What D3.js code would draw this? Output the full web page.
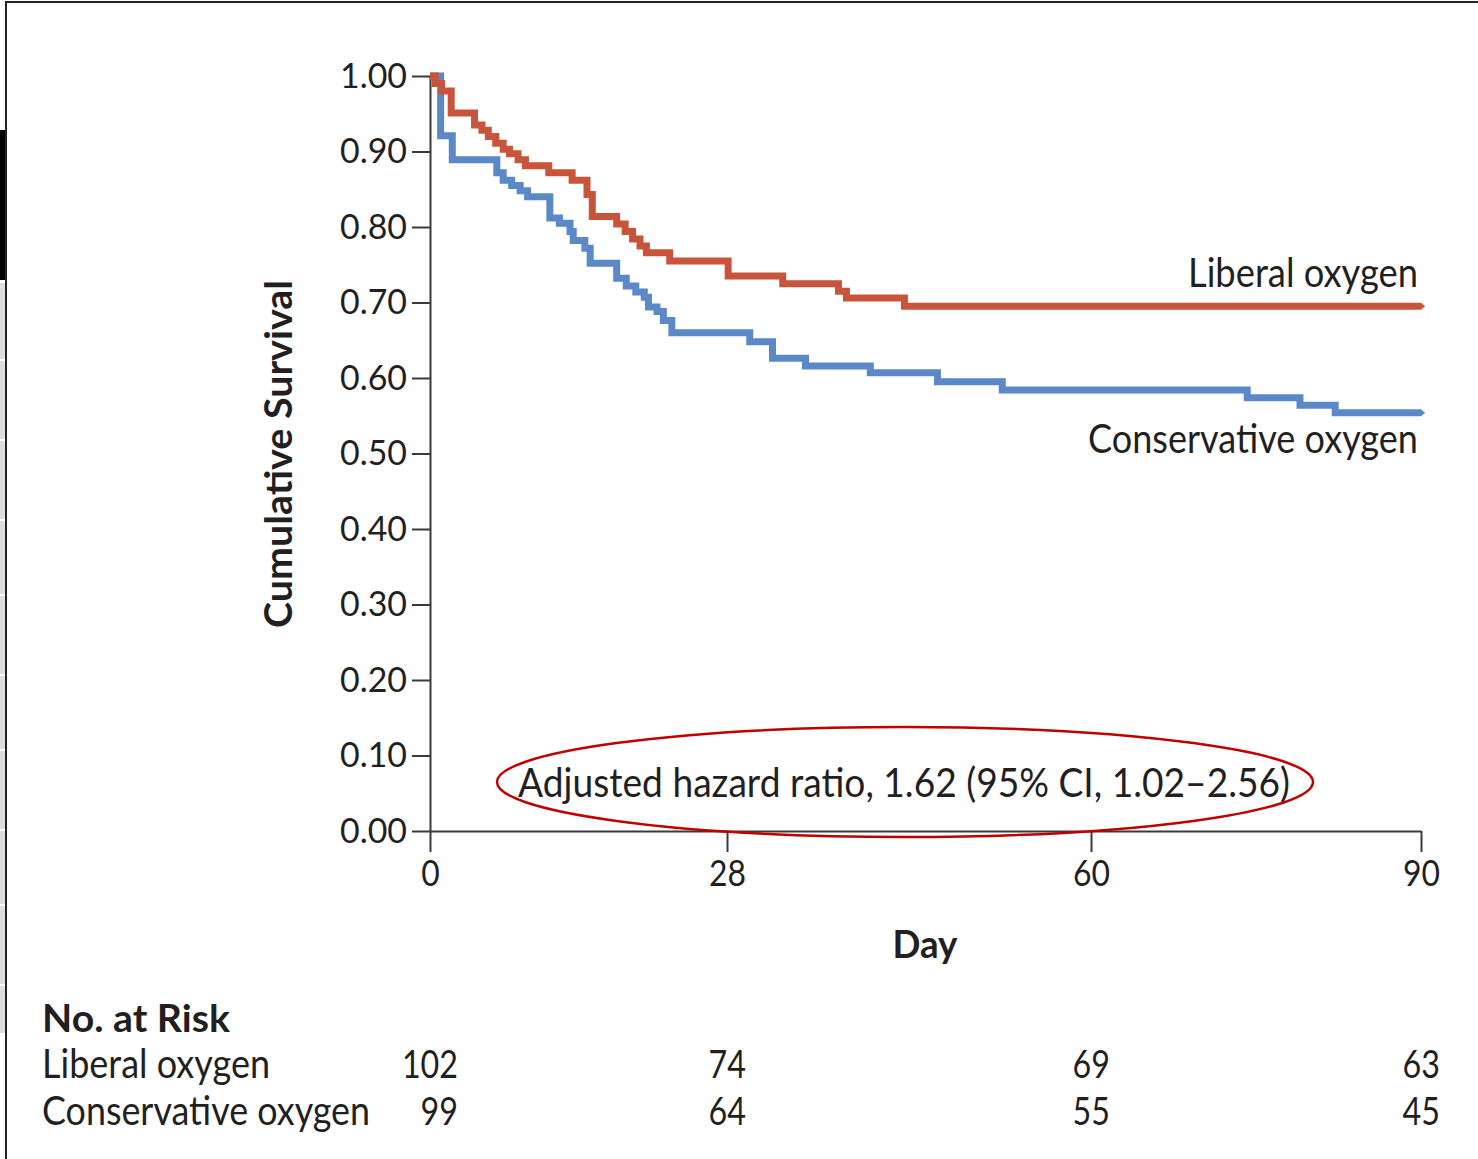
<!DOCTYPE html>
<html>
<head>
<meta charset="utf-8">
<script src="https://cdn.jsdelivr.net/npm/d3@7"></script>
<style>
  body { margin: 0; background: #fff; }
  text { font-family: Lato, "Open Sans", sans-serif; fill: #231f20; }
</style>
</head>
<body>
<svg></svg>
<script>
const width = 1478;
const height = 1159;

// Kaplan-Meier steps: [day, survival]
const liberalDays = [0, 0.5, 1.1, 2.0, 4.2, 4.9, 5.5, 6.2, 6.9, 7.5, 8.3, 9.0, 11.2, 13.4, 14.8, 15.3, 17.6, 18.4, 19.1, 19.8, 20.4, 22.6, 28.1, 32.9, 37.8, 38.5, 43.6, 90];
const liberalSurv = [1.000, 0.990, 0.980, 0.951, 0.935, 0.928, 0.920, 0.911, 0.903, 0.897, 0.889, 0.881, 0.872, 0.862, 0.843, 0.814, 0.804, 0.794, 0.784, 0.775, 0.766, 0.755, 0.735, 0.725, 0.715, 0.706, 0.695, 0.695];

const conservativeDays = [0, 1.0, 2.1, 6.3, 6.9, 7.7, 8.5, 9.2, 11.3, 12.2, 13.2, 13.5, 14.6, 15.1, 17.6, 18.5, 19.4, 20.2, 20.6, 21.4, 22.0, 22.8, 30.0, 32.0, 34.9, 40.6, 46.5, 52.2, 74.2, 79.0, 82.2, 90];
const conservativeSurv = [1.000, 0.921, 0.889, 0.872, 0.862, 0.855, 0.848, 0.840, 0.812, 0.805, 0.794, 0.782, 0.772, 0.752, 0.732, 0.722, 0.714, 0.707, 0.694, 0.688, 0.676, 0.660, 0.648, 0.626, 0.616, 0.607, 0.595, 0.584, 0.574, 0.564, 0.554, 0.554];

const xTicks = [0, 28, 60, 90];
const yTicks = [0, 0.1, 0.2, 0.3, 0.4, 0.5, 0.6, 0.7, 0.8, 0.9, 1.0];

const riskDays = [0, 28, 60, 90];
const riskLiberal = [102, 74, 69, 63];
const riskConservative = [99, 64, 55, 45];

const groupNames = ["Liberal oxygen", "Conservative oxygen"];
const colors = { liberal: "#c8553b", conservative: "#5b88c6" };

const svg = d3.select("svg")
    .attr("width", width)
    .attr("height", height);

svg.append("rect").attr("width", width).attr("height", height).attr("fill", "#fff");

// squeeze text to the condensed widths of the original
function fit(sel, w) {
    sel.attr("textLength", w).attr("lengthAdjust", "spacingAndGlyphs");
}

// left page edge bits and frame
svg.append("rect").attr("x", 0).attr("y", 130).attr("width", 6).attr("height", 150).attr("fill", "#000");
svg.append("rect").attr("x", 0).attr("y", 283).attr("width", 5).attr("height", 750).attr("fill", "#dedede");
[360, 440, 520, 595, 675, 750, 830, 905, 985].forEach(yy => {
    svg.append("line").attr("x1", 0).attr("x2", 5).attr("y1", yy).attr("y2", yy)
        .attr("stroke", "#fff").attr("stroke-width", 2);
});
svg.append("line").attr("x1", 6).attr("x2", 6).attr("y1", 1).attr("y2", height)
    .attr("stroke", "#222").attr("stroke-width", 2);
svg.append("line").attr("x1", 6).attr("x2", width).attr("y1", 2).attr("y2", 2)
    .attr("stroke", "#222").attr("stroke-width", 2);

// x is not quite linear in the original, so map the tick days piecewise
const x = d3.scaleLinear().domain(xTicks).range([430, 727, 1091, 1421]);
const y = d3.scaleLinear().domain([0, 1]).range([831, 76]);

const g = svg.append("g");

const yAxis = g.append("g")
    .attr("transform", `translate(${x(0)},0)`)
    .call(d3.axisLeft(y).tickValues(yTicks).tickSize(18).tickPadding(5).tickSizeOuter(0).tickFormat(d3.format(".2f")));

const xAxis = g.append("g")
    .attr("transform", `translate(0,${y(0)})`)
    .call(d3.axisBottom(x).tickValues(xTicks).tickSize(21).tickPadding(8).tickSizeOuter(0).tickFormat(d3.format("d")));

[yAxis, xAxis].forEach(a => {
    a.selectAll("path, line").attr("stroke", "#3a3a3a").attr("stroke-width", 2);
});
yAxis.selectAll("text").attr("font-size", 35).call(fit, 67);
xAxis.selectAll("text").attr("font-size", 37).each(function(d) {
    d3.select(this).call(fit, String(d).length * 18.5);
});

// curves
const line = d3.line()
    .curve(d3.curveStepAfter)
    .x(d => x(d[0]))
    .y(d => y(d[1]));

const defs = svg.append("defs");
Object.entries(colors).forEach(([k, c]) => {
    defs.append("marker")
        .attr("id", "tip-" + k)
        .attr("viewBox", "0 -1 1 2")
        .attr("refX", 0).attr("refY", 0)
        .attr("markerWidth", 1).attr("markerHeight", 2)
        .attr("orient", "auto")
        .append("path").attr("d", "M0,-0.5L0.6,0L0,0.5Z").attr("fill", c);
});

const conservativeData = conservativeDays.map((d, i) => [d, conservativeSurv[i]]);
const liberalData = liberalDays.map((d, i) => [d, liberalSurv[i]]);

g.append("path")
    .datum(conservativeData)
    .attr("d", line)
    .attr("fill", "none")
    .attr("stroke", colors.conservative)
    .attr("stroke-width", 7)
    .attr("marker-end", "url(#tip-conservative)");

g.append("path")
    .datum(liberalData)
    .attr("d", line)
    .attr("fill", "none")
    .attr("stroke", colors.liberal)
    .attr("stroke-width", 7)
    .attr("marker-end", "url(#tip-liberal)");

// curve labels
g.append("text").text(groupNames[0])
    .attr("x", 1418).attr("y", 287)
    .attr("text-anchor", "end").attr("font-size", 40)
    .call(fit, 230);
g.append("text").text(groupNames[1])
    .attr("x", 1418).attr("y", 453)
    .attr("text-anchor", "end").attr("font-size", 40)
    .call(fit, 330);

// axis titles
g.append("text").text("Cumulative Survival")
    .attr("transform", "translate(292,454) rotate(-90)")
    .attr("text-anchor", "middle").attr("font-size", 38).attr("font-weight", 700)
    .call(fit, 348);
g.append("text").text("Day")
    .attr("x", 925).attr("y", 958)
    .attr("text-anchor", "middle").attr("font-size", 38).attr("font-weight", 700)
    .call(fit, 65);

// hazard ratio note with red ellipse
g.append("text").text("Adjusted hazard ratio, 1.62 (95% CI, 1.02\u20132.56)")
    .attr("x", 904).attr("y", 797)
    .attr("text-anchor", "middle").attr("font-size", 40)
    .call(fit, 772);
g.append("ellipse")
    .attr("cx", 905).attr("cy", 782)
    .attr("rx", 408).attr("ry", 55)
    .attr("fill", "none")
    .attr("stroke", "#c00000")
    .attr("stroke-width", 2.5);

// number at risk table
g.append("text").text("No. at Risk")
    .attr("x", 42).attr("y", 1032)
    .attr("font-size", 38).attr("font-weight", 700)
    .call(fit, 188);

const rows = [
    { name: groupNames[0], values: riskLiberal, base: 1078, w: 228 },
    { name: groupNames[1], values: riskConservative, base: 1125, w: 328 }
];
rows.forEach(r => {
    g.append("text").text(r.name)
        .attr("x", 42).attr("y", r.base)
        .attr("font-size", 40)
        .call(fit, r.w);
    g.selectAll(null)
        .data(r.values)
        .enter().append("text")
        .text(d => d)
        .attr("x", (d, i) => x(riskDays[i]) + (i === 0 ? 28 : 19))
        .attr("y", r.base)
        .attr("text-anchor", "end")
        .attr("font-size", 38)
        .each(function(d) {
            d3.select(this).call(fit, String(d).length * 18.7);
        });
});
</script>
</body>
</html>
